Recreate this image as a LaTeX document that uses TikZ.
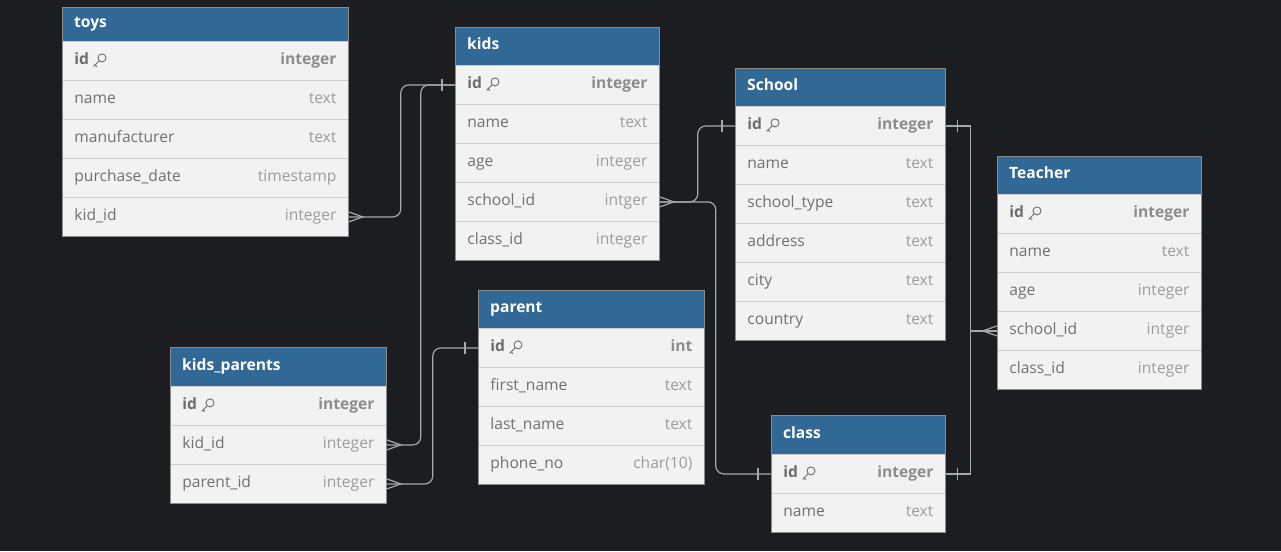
\documentclass[tikz,border=0pt]{standalone}
\usepackage{fontspec}
\setmainfont{Open Sans}
\usetikzlibrary{calc}
\definecolor{bgc}{HTML}{1C1D20}
\definecolor{hdrc}{HTML}{316896}
\definecolor{rowc}{HTML}{F2F2F2}
\definecolor{sepc}{HTML}{CDCDCD}
\definecolor{bordc}{HTML}{8C8C8C}
\definecolor{namec}{HTML}{707070}
\definecolor{typec}{HTML}{9C9C9C}
\definecolor{idc}{HTML}{6C6C6C}
\definecolor{idtypec}{HTML}{8C8C8C}
\definecolor{linec}{HTML}{A8A8A8}
\newcommand\tabfont{\fontsize{15.6}{18}\selectfont}
\tikzset{
  hdr/.style={anchor=north west, fill=hdrc, text=white, font=\tabfont\bfseries,
    inner xsep=12pt, inner ysep=0pt, align=left, text height=11.5pt, text depth=4pt},
  row/.style={anchor=north west, fill=rowc, draw=sepc, line width=0.8pt, text=namec,
    font=\tabfont, inner xsep=12pt, inner ysep=0pt, minimum height=39pt, align=left,
    text height=11.5pt, text depth=4pt},
  conn/.style={draw=linec, line width=1.2pt},
  tbl/.style={draw=bordc, line width=0.8pt},
  keyline/.style={draw=idc, line width=0.9pt},
}
% header: name, x, y, width, height, title
\newcommand\tabhead[6]{%
  \pgfmathsetmacro\tw{#4-24}%
  \node[hdr, text width=\tw pt, minimum height=#5pt] (#1) at (#2,#3) {#6};}
% row: name, x, y, width, label, type
\newcommand\tabrow[6]{%
  \pgfmathsetmacro\tw{#4-24}%
  \node[row, text width=\tw pt] (#1) at (#2,#3) {#5\hfill{\color{typec}#6}};}
\newcommand\tabrowid[5]{%
  \pgfmathsetmacro\tw{#4-24}%
  \node[row, text width=\tw pt, font=\tabfont\bfseries, text=idc] (#1) at (#2,#3)
    {id\hfill{\color{idtypec}#5}};
  \draw[keyline] ($(#1.west)+(40,-3)$) circle (4pt);
  \draw[keyline] ($(#1.west)+(37.2,-0.2)$) -- ($(#1.west)+(31.5,5.5)$);
  \draw[keyline] ($(#1.west)+(33,3.8)$) -- ($(#1.west)+(35,5.8)$);}
\newcommand\crowR[1]{\draw[conn] ($(#1)+(0,-5)$) -- ($(#1)+(14,0)$) -- ($(#1)+(0,5)$);}
\newcommand\crowL[1]{\draw[conn] ($(#1)+(0,-5)$) -- ($(#1)+(-14,0)$) -- ($(#1)+(0,5)$);}
\newcommand\barat[2]{\draw[conn] ($(#1)+(#2,-6)$) -- ($(#1)+(#2,6)$);}
\begin{document}
\begin{tikzpicture}[x=1pt,y=-1pt]
\useasboundingbox (0,0) rectangle (1281,551);
\fill[bgc] (0,0) rectangle (1281,551);

% ---------- toys ----------
\tabhead{toys}{62}{7}{286}{34}{toys}
\tabrowid{toys-id}{62}{41}{286}{integer}
\tabrow{toys-name}{62}{80}{286}{name}{text}
\tabrow{toys-man}{62}{119}{286}{manufacturer}{text}
\tabrow{toys-pd}{62}{158}{286}{purchase\_date}{timestamp}
\tabrow{toys-kidid}{62}{197}{286}{kid\_id}{integer}
\draw[tbl] (62,7) rectangle (348,236);

% ---------- kids ----------
\tabhead{kids}{455}{27}{204}{38}{kids}
\tabrowid{kids-id}{455}{65}{204}{integer}
\tabrow{kids-name}{455}{104}{204}{name}{text}
\tabrow{kids-age}{455}{143}{204}{age}{integer}
\tabrow{kids-schoolid}{455}{182}{204}{school\_id}{intger}
\tabrow{kids-classid}{455}{221}{204}{class\_id}{integer}
\draw[tbl] (455,27) rectangle (659,260);

% ---------- School ----------
\tabhead{school}{735}{68}{210}{38}{School}
\tabrowid{school-id}{735}{106}{210}{integer}
\tabrow{school-name}{735}{145}{210}{name}{text}
\tabrow{school-type}{735}{184}{210}{school\_type}{text}
\tabrow{school-addr}{735}{223}{210}{address}{text}
\tabrow{school-city}{735}{262}{210}{city}{text}
\tabrow{school-country}{735}{301}{210}{country}{text}
\draw[tbl] (735,68) rectangle (945,340);

% ---------- Teacher ----------
\tabhead{teacher}{997}{156}{204}{38}{Teacher}
\tabrowid{teacher-id}{997}{194}{204}{integer}
\tabrow{teacher-name}{997}{233}{204}{name}{text}
\tabrow{teacher-age}{997}{272}{204}{age}{integer}
\tabrow{teacher-schoolid}{997}{311}{204}{school\_id}{intger}
\tabrow{teacher-classid}{997}{350}{204}{class\_id}{integer}
\draw[tbl] (997,156) rectangle (1201,389);

% ---------- kids_parents ----------
\tabhead{kp}{170}{347}{216}{39}{kids\_parents}
\tabrowid{kp-id}{170}{386}{216}{integer}
\tabrow{kp-kidid}{170}{425}{216}{kid\_id}{integer}
\tabrow{kp-parentid}{170}{464}{216}{parent\_id}{integer}
\draw[tbl] (170,347) rectangle (386,503);

% ---------- parent ----------
\tabhead{parent}{478}{290}{226}{38}{parent}
\tabrowid{parent-id}{478}{328}{226}{int}
\tabrow{parent-fn}{478}{367}{226}{first\_name}{text}
\tabrow{parent-ln}{478}{406}{226}{last\_name}{text}
\tabrow{parent-ph}{478}{445}{226}{phone\_no}{char(10)}
\draw[tbl] (478,290) rectangle (704,484);

% ---------- class ----------
\tabhead{class}{771}{415}{174}{39}{class}
\tabrowid{class-id}{771}{454}{174}{integer}
\tabrow{class-name}{771}{493}{174}{name}{text}
\draw[tbl] (771,415) rectangle (945,532);

% ---------- connectors ----------
\draw[conn, rounded corners=8pt] (toys-kidid.east) -- ++(52,0) |- (kids-id.west);
\draw[conn, rounded corners=8pt] (kp-kidid.east) -- ++(34,0) |- (kids-id.west);
\draw[conn, rounded corners=8pt] (kp-parentid.east) -- ++(46,0) |- (parent-id.west);
\draw[conn, rounded corners=8pt] (kids-schoolid.east) -- ++(38,0) |- (school-id.west);
\draw[conn, rounded corners=8pt] (kids-schoolid.east) -- ++(56,0) |- (class-id.west);
\draw[conn] (school-id.east) -- ++(25,0) |- (teacher-schoolid.west);
\draw[conn] (class-id.east) -- ++(25,0) |- (teacher-schoolid.west);

\crowR{toys-kidid.east}
\crowR{kp-kidid.east}
\crowR{kp-parentid.east}
\crowR{kids-schoolid.east}
\crowL{teacher-schoolid.west}
\barat{kids-id.west}{-13}
\barat{parent-id.west}{-13}
\barat{school-id.west}{-13}
\barat{class-id.west}{-13}
\barat{school-id.east}{12}
\barat{class-id.east}{12}
\end{tikzpicture}
\end{document}
